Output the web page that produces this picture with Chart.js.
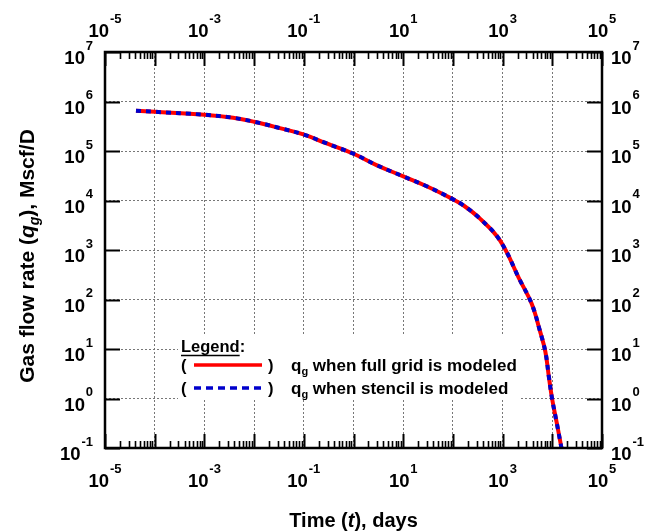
<!DOCTYPE html>
<html><head><meta charset="utf-8">
<script src="https://cdn.jsdelivr.net/npm/chart.js@4/dist/chart.umd.min.js"></script>
<style>html,body{margin:0;padding:0;background:#fff;}canvas{display:block;}</style>
</head><body>
<canvas id="c" width="646" height="531"></canvas>
<script>
// ---- data ----
const timeDays = [4.2e-5, 1e-4, 1e-3, 3.8e-3, 1e-2, 3.3e-2, 0.098, 0.29, 1, 2.9, 9.8, 29.7, 95, 162, 351, 885, 2240, 3850, 5620, 7240, 8510, 9890, 12300, 15300];
const qFullGrid = [6.5e5, 6.2e5, 5.4e5, 4.7e5, 3.9e5, 2.9e5, 2.16e5, 1.42e5, 8.8e4, 5.2e4, 3.1e4, 1.94e4, 1.09e4, 8.0e3, 4.3e3, 1.56e3, 243, 82, 23.5, 8.9, 2.8, 1.0, 0.32, 0.1];
const qStencil  = [6.5e5, 6.2e5, 5.4e5, 4.7e5, 3.9e5, 2.9e5, 2.16e5, 1.42e5, 8.8e4, 5.2e4, 3.1e4, 1.94e4, 1.09e4, 8.0e3, 4.3e3, 1.56e3, 243, 82, 23.5, 8.9, 2.8, 1.0, 0.32, 0.1];
const xDecadeExponents = [-5, -4, -3, -2, -1, 0, 1, 2, 3, 4, 5];
const xLabelExponents = [-5, -3, -1, 1, 3, 5];
const yDecadeExponents = [-1, 0, 1, 2, 3, 4, 5, 6, 7];
const seriesLabels = ['when full grid is modeled', 'when stencil is modeled'];
const legendTitle = 'Legend:';

const FONT = '"Liberation Sans", Arial, sans-serif';
const RED = '#ff0000', BLUE = '#0000cc';

function pts(xs, ys) { return xs.map((x, i) => ({ x: x, y: ys[i] })); }

function drawRuns(ctx, runs, x, y, align) {
  let total = 0;
  runs.forEach(r => { ctx.font = r.font; r.w = ctx.measureText(r.text).width; total += r.w; });
  let cx = align === 'center' ? x - total / 2 : (align === 'right' ? x - total : x);
  ctx.textAlign = 'left'; ctx.textBaseline = 'alphabetic';
  runs.forEach(r => { ctx.font = r.font; ctx.fillText(r.text, cx, y + (r.dy || 0)); cx += r.w; });
  return total;
}

function drawPow(ctx, x, y, exp, align) {
  const e = exp < 0 ? '-' + Math.abs(exp) : String(exp);
  drawRuns(ctx, [
    { text: '10', font: 'bold 18.5px ' + FONT },
    { text: ' ', font: 'bold 3px ' + FONT },
    { text: e, font: 'bold 13px ' + FONT, dy: -14.5 }
  ], x, y, align);
}

const decorations = {
  id: 'decorations',
  beforeDatasetsDraw(chart) {
    const ctx = chart.ctx;
    ctx.save();
    ctx.fillStyle = '#fff';
    ctx.fillRect(178, 335, 341, 65);
    ctx.restore();
  },
  afterDraw(chart) {
    const ctx = chart.ctx, a = chart.chartArea;
    const xs = chart.scales.x, ys = chart.scales.y;
    ctx.save();
    ctx.strokeStyle = '#000'; ctx.fillStyle = '#000';
    xDecadeExponents.forEach(ex => {
      for (let m = 1; m <= 9; m++) {
        const v = m * Math.pow(10, ex);
        if (v > 1e5 * 1.0001) break;
        const px = Math.round(xs.getPixelForValue(v)) + 0.5;
        const len = m === 1 ? 14 : 7;
        ctx.lineWidth = m === 1 ? 2 : 1.6;
        ctx.beginPath();
        ctx.moveTo(px, a.bottom); ctx.lineTo(px, a.bottom - len);
        ctx.moveTo(px, a.top); ctx.lineTo(px, a.top + len);
        ctx.stroke();
      }
    });
    yDecadeExponents.forEach(ex => {
      const py = Math.round(ys.getPixelForValue(Math.pow(10, ex))) + 0.5;
      ctx.lineWidth = 2;
      ctx.beginPath();
      ctx.moveTo(a.left, py); ctx.lineTo(a.left + 15, py);
      ctx.moveTo(a.right, py); ctx.lineTo(a.right - 15, py);
      ctx.stroke();
    });
    ctx.lineWidth = 2.5;
    ctx.strokeRect(a.left, a.top, a.right - a.left, a.bottom - a.top);
    xLabelExponents.forEach(ex => {
      const px = xs.getPixelForValue(Math.pow(10, ex));
      drawPow(ctx, px, a.bottom + 39, ex, 'center');
      drawPow(ctx, px, a.top - 15, ex, 'center');
    });
    yDecadeExponents.forEach(ex => {
      const py = ys.getPixelForValue(Math.pow(10, ex));
      drawPow(ctx, a.left - 12, py + 12, ex, 'right');
      drawPow(ctx, a.right + 9, py + 12, ex, 'left');
    });
    drawRuns(ctx, [
      { text: 'Time (', font: 'bold 20px ' + FONT },
      { text: 't', font: 'italic bold 20px ' + FONT },
      { text: '), days', font: 'bold 20px ' + FONT }
    ], (a.left + a.right) / 2, 527, 'center');
    ctx.save();
    ctx.translate(34, 256);
    ctx.rotate(-Math.PI / 2);
    drawRuns(ctx, [
      { text: 'Gas flow rate (', font: 'bold 21px ' + FONT },
      { text: 'q', font: 'italic bold 21px ' + FONT },
      { text: 'g', font: 'italic bold 14px ' + FONT, dy: 5 },
      { text: '), Mscf/D', font: 'bold 21px ' + FONT }
    ], 0, 0, 'center');
    ctx.restore();
    ctx.font = 'bold 16.5px ' + FONT;
    ctx.textAlign = 'left'; ctx.textBaseline = 'alphabetic';
    ctx.fillText(legendTitle, 181, 352);
    const wL = ctx.measureText(legendTitle.replace(':', '')).width;
    ctx.lineWidth = 1.5;
    ctx.beginPath(); ctx.moveTo(181, 355.5); ctx.lineTo(181 + wL, 355.5); ctx.stroke();
    const rows = [{ y: 365, color: RED, dash: [] }, { y: 388, color: BLUE, dash: [7, 5] }];
    rows.forEach((r, i) => {
      ctx.fillStyle = '#000';
      ctx.font = 'bold 16.5px ' + FONT;
      ctx.fillText('(', 181, r.y + 6);
      ctx.fillText(')', 268, r.y + 6);
      ctx.save();
      ctx.strokeStyle = r.color; ctx.lineWidth = 3.5; ctx.setLineDash(r.dash);
      ctx.beginPath(); ctx.moveTo(194, r.y); ctx.lineTo(262, r.y); ctx.stroke();
      ctx.restore();
      drawRuns(ctx, [
        { text: 'q', font: 'bold 17px ' + FONT },
        { text: 'g', font: 'bold 11px ' + FONT, dy: 4 },
        { text: ' ' + seriesLabels[i], font: 'bold 17px ' + FONT }
      ], 291, r.y + 6, 'left');
    });
    ctx.restore();
  }
};

const decades = exps => exps.map(e => ({ value: Math.pow(10, e) }));

new Chart(document.getElementById('c'), {
  type: 'line',
  data: {
    datasets: [
      { label: 'q_g ' + seriesLabels[0], data: pts(timeDays, qFullGrid), borderColor: RED, borderWidth: 4,
        pointRadius: 0, tension: 0.4, order: 2 },
      { label: 'q_g ' + seriesLabels[1], data: pts(timeDays, qStencil), borderColor: BLUE, borderWidth: 4,
        borderDash: [5, 5], pointRadius: 0, tension: 0.4, order: 1 }
    ]
  },
  options: {
    responsive: false, animation: false, devicePixelRatio: 1,
    layout: { padding: { left: 105, right: 44, top: 52, bottom: 83 } },
    plugins: { legend: { display: false }, tooltip: { enabled: false } },
    scales: {
      x: {
        type: 'logarithmic', min: 1e-5, max: 1e5, position: 'bottom',
        afterBuildTicks: s => { s.ticks = decades(xDecadeExponents); },
        ticks: { display: false },
        grid: { drawTicks: false, color: '#777', lineWidth: 1 },
        border: { display: false, dash: [2, 2] }
      },
      y: {
        type: 'logarithmic', min: 0.1, max: 1e7, position: 'left',
        afterBuildTicks: s => { s.ticks = decades(yDecadeExponents); },
        ticks: { display: false },
        grid: { drawTicks: false, color: '#777', lineWidth: 1 },
        border: { display: false, dash: [2, 2] }
      }
    }
  },
  plugins: [decorations]
});
</script>
</body></html>
